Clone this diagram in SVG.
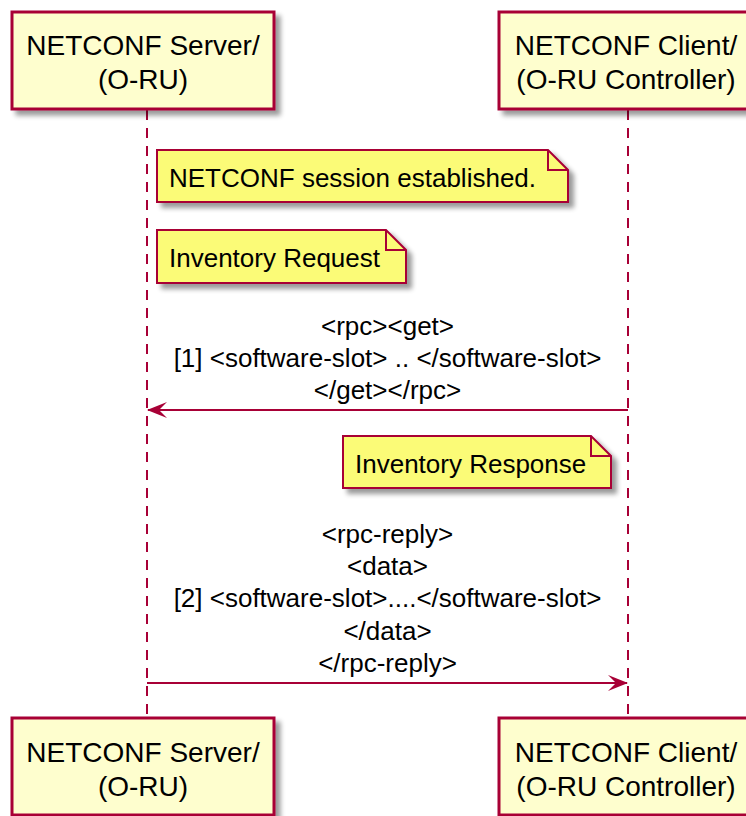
<svg xmlns="http://www.w3.org/2000/svg" width="746" height="816" viewBox="0 0 746 816">
<defs>
<filter id="sh" x="-10%" y="-10%" width="130%" height="140%">
<feGaussianBlur in="SourceAlpha" stdDeviation="2.5"/>
<feOffset dx="5" dy="5" result="b"/>
<feComponentTransfer><feFuncA type="linear" slope="0.4"/></feComponentTransfer>
<feMerge><feMergeNode/><feMergeNode in="SourceGraphic"/></feMerge>
</filter>
<marker id="ah" viewBox="0 0 20 16" refX="19" refY="8" markerWidth="20" markerHeight="16" markerUnits="userSpaceOnUse" orient="auto">
<path d="M20,8 L0,0 L8,8 L0,16 Z" fill="#A80036"/>
</marker>
<style>
.part{fill:#FEFECE;stroke:#A80036;stroke-width:3;}
.note{fill:#FBFB77;stroke:#A80036;stroke-width:2;}
.ear{fill:none;stroke:#A80036;stroke-width:2;}
.life{stroke:#A80036;stroke-width:2;stroke-dasharray:10,8;fill:none;}
.msg{stroke:#A80036;stroke-width:2;fill:none;}
.pt{font-family:"Liberation Sans",Arial,sans-serif;font-size:28px;fill:#000;text-anchor:middle;}
.nt{font-family:"Liberation Sans",Arial,sans-serif;font-size:26px;fill:#000;}
.mt{font-family:"Liberation Sans",Arial,sans-serif;font-size:26px;fill:#000;text-anchor:middle;}
</style>
</defs>
<rect width="746" height="816" fill="#FFFFFF"/>
<g id="lifelines">
<line class="life" x1="147" y1="110" x2="147" y2="717"/>
<line class="life" x1="628" y1="110" x2="628" y2="717"/>
</g>
<g id="server-top">
<rect class="part" x="12" y="12" width="262" height="97" filter="url(#sh)"/>
<text class="pt" x="143" y="55">NETCONF Server/</text>
<text class="pt" x="143" y="89">(O-RU)</text>
</g>
<g id="client-top">
<rect class="part" x="499" y="12" width="258" height="97" filter="url(#sh)"/>
<text class="pt" x="626" y="55">NETCONF Client/</text>
<text class="pt" x="626" y="89">(O-RU Controller)</text>
</g>
<g id="note-session">
<path class="note" d="M157,150 H548 L568,170 V202 H157 Z" filter="url(#sh)"/>
<path class="ear" d="M548,150 V170 H568"/>
<text class="nt" x="169" y="187">NETCONF session established.</text>
</g>
<g id="note-request">
<path class="note" d="M157,230 H386 L406,250 V283 H157 Z" filter="url(#sh)"/>
<path class="ear" d="M386,230 V250 H406"/>
<text class="nt" x="169" y="267">Inventory Request</text>
</g>
<g id="note-response">
<path class="note" d="M343,436 H591 L611,456 V488 H343 Z" filter="url(#sh)"/>
<path class="ear" d="M591,436 V456 H611"/>
<text class="nt" x="355" y="473">Inventory Response</text>
</g>
<g id="connectors">
<line class="msg" x1="628" y1="410" x2="148" y2="410" marker-end="url(#ah)"/>
<line class="msg" x1="147" y1="683" x2="627" y2="683" marker-end="url(#ah)"/>
</g>
<g id="labels">
<text class="mt" x="387.5" y="335">&lt;rpc&gt;&lt;get&gt;</text>
<text class="mt" x="387.5" y="367">[1] &lt;software-slot&gt; .. &lt;/software-slot&gt;</text>
<text class="mt" x="387.5" y="399">&lt;/get&gt;&lt;/rpc&gt;</text>
<text class="mt" x="387.5" y="543">&lt;rpc-reply&gt;</text>
<text class="mt" x="387.5" y="575">&lt;data&gt;</text>
<text class="mt" x="387.5" y="607">[2] &lt;software-slot&gt;....&lt;/software-slot&gt;</text>
<text class="mt" x="387.5" y="640">&lt;/data&gt;</text>
<text class="mt" x="387.5" y="672">&lt;/rpc-reply&gt;</text>
</g>
<g id="server-bottom">
<rect class="part" x="12" y="718" width="262" height="97" filter="url(#sh)"/>
<text class="pt" x="143" y="762">NETCONF Server/</text>
<text class="pt" x="143" y="796">(O-RU)</text>
</g>
<g id="client-bottom">
<rect class="part" x="499" y="718" width="258" height="97" filter="url(#sh)"/>
<text class="pt" x="626" y="762">NETCONF Client/</text>
<text class="pt" x="626" y="796">(O-RU Controller)</text>
</g>
</svg>
